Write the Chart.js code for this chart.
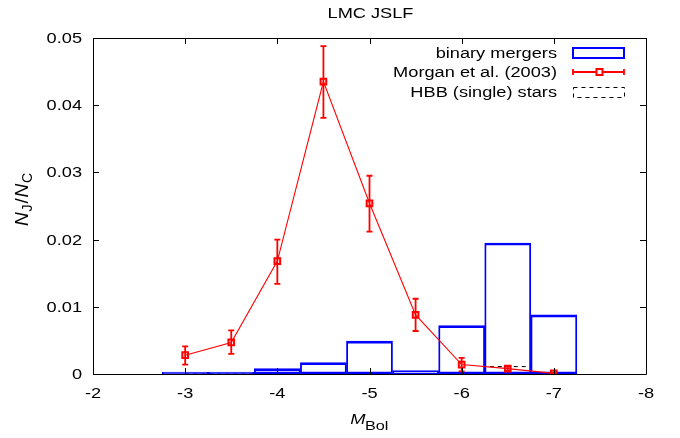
<!DOCTYPE html>
<html>
<head>
<meta charset="utf-8">
<script src="https://cdn.jsdelivr.net/npm/chart.js@4"></script>
<style>
html,body{margin:0;padding:0;background:#fff;}
#wrap{width:680px;height:438px;}
</style>
</head>
<body>
<div id="wrap"><canvas id="c" width="680" height="438"></canvas></div>
<script>
// ---- data ----
const mbol = [-3, -3.5, -4, -4.5, -5, -5.5, -6, -6.5, -7];
const binaryMergers = [0, 0.0002, 0.0008, 0.0017, 0.0049, 0.0005, 0.0072, 0.0195, 0.0088];
const morgan = [0.0028, 0.0047, 0.0168, 0.0435, 0.0254, 0.0088, 0.0014, 0.0008, 0.0001];
const morganLo = [0.0014, 0.0030, 0.0134, 0.0381, 0.0212, 0.0064, 0.0004, 0.0005, 0.0000];
const morganHi = [0.0041, 0.0065, 0.0200, 0.0488, 0.0295, 0.0112, 0.0024, 0.0011, 0.0002];
const hbb = [0, 0, 0, 0, 0, 0, 0, 0.0011, 0.0002];
const xTicks = [-2, -3, -4, -5, -6, -7, -8];
const yTicks = [0, 0.01, 0.02, 0.03, 0.04, 0.05];
const yTickLabels = ['0', '0.01', '0.02', '0.03', '0.04', '0.05'];
const legendLabels = ['binary mergers', 'Morgan et al. (2003)', 'HBB (single) stars'];
const titleText = 'LMC JSLF';

const FONT = '"Liberation Sans", Arial, sans-serif';
const SX = 1.3;
const BLUE = '#0000ff', RED = '#ff0000';

// draw text horizontally stretched (reference text is wide)
function wideText(ctx, text, x, y, align, font, sx) {
  sx = sx || SX;
  ctx.save();
  ctx.font = font;
  const w = ctx.measureText(text).width * sx;
  let left = x;
  if (align === 'center') left = x - w / 2;
  else if (align === 'right') left = x - w;
  ctx.translate(left, y);
  ctx.scale(sx, 1);
  ctx.textAlign = 'left';
  ctx.textBaseline = 'alphabetic';
  ctx.fillText(text, 0, 0);
  ctx.restore();
  return w;
}

const framePlugin = {
  id: 'frame',
  afterDatasetsDraw(chart){
    const ctx = chart.ctx, a = chart.chartArea;
    const xs = chart.scales.x, ys = chart.scales.y;
    // error bars for Morgan et al.
    const meta = chart.getDatasetMeta(1);
    ctx.save();
    ctx.strokeStyle = RED; ctx.lineWidth = 1.8;
    meta.data.forEach((pt, i) => {
      const x = pt.x;
      const y1 = ys.getPixelForValue(morganLo[i]);
      const y2 = ys.getPixelForValue(morganHi[i]);
      ctx.beginPath();
      ctx.moveTo(x, y1); ctx.lineTo(x, y2);
      ctx.moveTo(x - 3, y1); ctx.lineTo(x + 3, y1);
      ctx.moveTo(x - 3, y2); ctx.lineTo(x + 3, y2);
      ctx.stroke();
    });
    ctx.restore();
    // frame + inward ticks
    ctx.save();
    ctx.strokeStyle = '#000'; ctx.lineWidth = 1;
    ctx.beginPath();
    ctx.rect(Math.round(a.left) + 0.5, Math.round(a.top) + 0.5, Math.round(a.right - a.left), Math.round(a.bottom - a.top));
    const tl = 6;
    xs.ticks.forEach(t => {
      const x = Math.round(xs.getPixelForValue(t.value)) + 0.5;
      ctx.moveTo(x, a.bottom); ctx.lineTo(x, a.bottom - tl);
      ctx.moveTo(x, a.top); ctx.lineTo(x, a.top + tl);
    });
    ys.ticks.forEach(t => {
      const y = Math.round(ys.getPixelForValue(t.value)) + 0.5;
      ctx.moveTo(a.left, y); ctx.lineTo(a.left + tl, y);
      ctx.moveTo(a.right, y); ctx.lineTo(a.right - tl, y);
    });
    ctx.stroke();
    ctx.restore();

    ctx.save();
    ctx.fillStyle = '#000';
    // tick labels from the library's scales
    xs.ticks.forEach(t => {
      wideText(ctx, String(t.label), xs.getPixelForValue(t.value), 397.5, 'center', '14px ' + FONT);
    });
    ys.ticks.forEach(t => {
      wideText(ctx, String(t.label), a.left - 11, ys.getPixelForValue(t.value) + 5, 'right', '14px ' + FONT);
    });

    // title
    wideText(ctx, titleText, (a.left + a.right) / 2 + 1, 17.5, 'center', '14px ' + FONT);

    // x title: M_Bol
    ctx.save();
    ctx.font = 'italic 15px ' + FONT;
    const mW = ctx.measureText('M').width * 1.22;
    ctx.font = '12.5px ' + FONT;
    const bW = ctx.measureText('Bol').width * SX;
    ctx.restore();
    const cx = (a.left + a.right) / 2;
    const x0 = cx - (mW + bW) / 2;
    wideText(ctx, 'M', x0, 423.5, 'left', 'italic 15px ' + FONT, 1.22);
    wideText(ctx, 'Bol', x0 + mW - 0.5, 429.5, 'left', '12.5px ' + FONT);

    // y title: N_J/N_C rotated
    ctx.save();
    ctx.letterSpacing = '0.8px';
    ctx.translate(28, 199);
    ctx.rotate(-Math.PI / 2);
    ctx.textAlign = 'left'; ctx.textBaseline = 'alphabetic';
    const parts = [
      ['N', 'italic 19px ', 0], ['J', '14px ', 4], ['/', '19px ', 0],
      ['N', 'italic 19px ', 0], ['C', '14px ', 4]
    ];
    let tw = 0;
    parts.forEach(p => { ctx.font = p[1] + FONT; p.push(ctx.measureText(p[0]).width); tw += p[3]; });
    let px = -tw / 2;
    parts.forEach(p => {
      ctx.font = p[1] + FONT;
      ctx.fillText(p[0], px, p[2]);
      px += p[3];
    });
    ctx.restore();

    // legend
    const rows = [53, 72, 92];
    const tx = 557, sx1 = 573, sx2 = 624;
    legendLabels.forEach((t, i) => wideText(ctx, t, tx, rows[i] + 5, 'right', '14px ' + FONT));
    ctx.restore();

    ctx.save();
    // binary mergers sample
    ctx.strokeStyle = BLUE; ctx.lineWidth = 2;
    ctx.strokeRect(sx1, rows[0] - 5, sx2 - sx1, 10);
    // Morgan sample
    ctx.strokeStyle = RED; ctx.lineWidth = 1.8;
    ctx.beginPath();
    ctx.moveTo(sx1, rows[1]); ctx.lineTo(sx2, rows[1]);
    ctx.moveTo(sx1, rows[1] - 3); ctx.lineTo(sx1, rows[1] + 3);
    ctx.moveTo(sx2, rows[1] - 3); ctx.lineTo(sx2, rows[1] + 3);
    ctx.stroke();
    ctx.lineWidth = 2;
    ctx.fillStyle = '#fff';
    const mx = (sx1 + sx2) / 2 + 1;
    ctx.fillRect(mx - 3, rows[1] - 3, 6, 6);
    ctx.strokeRect(mx - 3, rows[1] - 3, 6, 6);
    // HBB sample
    ctx.strokeStyle = '#000'; ctx.lineWidth = 1;
    ctx.setLineDash([4, 4]);
    ctx.strokeRect(sx1 + 0.5, rows[2] - 5 + 0.5, sx2 - sx1, 10);
    ctx.restore();
  }
};

const ctx = document.getElementById('c').getContext('2d');
new Chart(ctx, {
  data: {
    datasets: [
      {
        type: 'bar',
        label: legendLabels[0],
        data: mbol.map((x, i) => ({x: x, y: binaryMergers[i]})),
        backgroundColor: 'rgba(0,0,0,0)',
        borderColor: BLUE,
        borderWidth: {top: 2, bottom: 2, left: 1.2, right: 1.2},
        borderSkipped: false,
        minBarLength: 2,
        barPercentage: 1,
        categoryPercentage: 1,
        order: 2
      },
      {
        type: 'line',
        label: legendLabels[1],
        data: mbol.map((x, i) => ({x: x, y: morgan[i]})),
        borderColor: RED,
        borderWidth: 1.1,
        pointStyle: 'rect',
        pointRadius: 4,
        pointBorderWidth: 2,
        pointBackgroundColor: 'rgba(255,255,255,0)',
        pointBorderColor: RED,
        tension: 0,
        order: 1
      },
      {
        type: 'line',
        label: legendLabels[2],
        data: mbol.map((x, i) => ({x: x, y: hbb[i]})),
        borderColor: '#000',
        borderWidth: 1,
        borderDash: [4, 4],
        stepped: 'middle',
        pointRadius: 0,
        order: 3
      }
    ]
  },
  options: {
    responsive: false,
    animation: false,
    devicePixelRatio: 1,
    layout: { padding: { top: 38, right: 34, left: 0, bottom: 0 } },
    plugins: {
      legend: { display: false },
      title: { display: false },
      tooltip: { enabled: false }
    },
    scales: {
      x: {
        type: 'linear',
        reverse: true,
        min: xTicks[xTicks.length - 1], max: xTicks[0],
        offset: false,
        grid: { display: false },
        border: { display: false },
        ticks: {
          display: false,
          stepSize: 1,
          callback: v => String(v)
        },
        afterFit(s){ s.height = 64; }
      },
      y: {
        type: 'linear',
        min: yTicks[0], max: yTicks[yTicks.length - 1],
        grid: { display: false },
        border: { display: false },
        ticks: {
          display: false,
          stepSize: 0.01,
          callback: v => yTickLabels[yTicks.findIndex(t => Math.abs(t - v) < 1e-9)] ?? String(v)
        },
        afterFit(s){ s.width = 93; }
      }
    }
  },
  plugins: [framePlugin]
});
</script>
</body>
</html>
